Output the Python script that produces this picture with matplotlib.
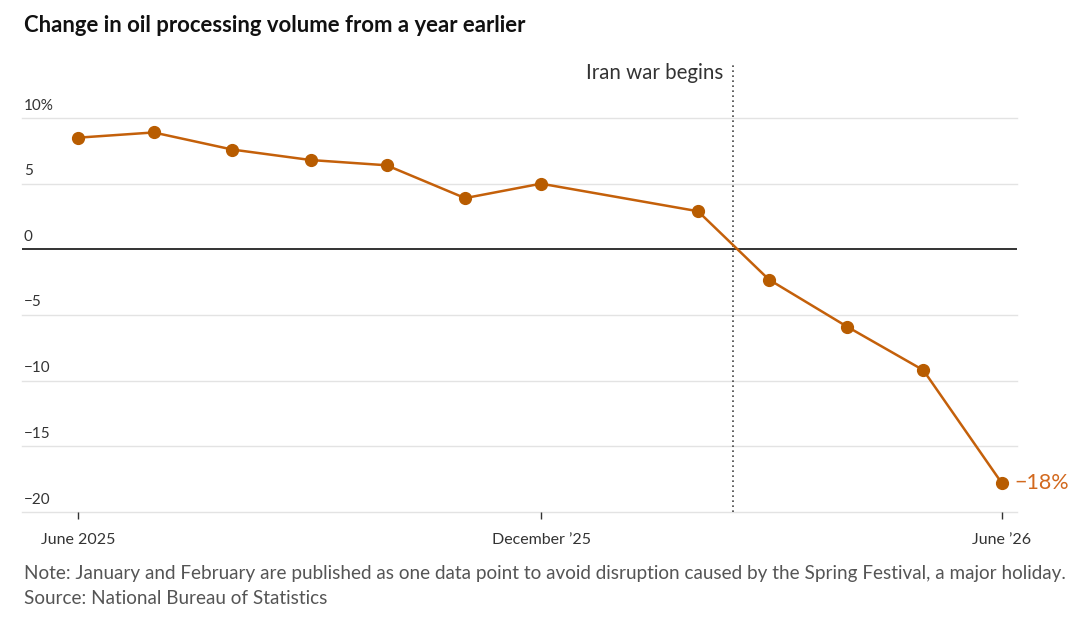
import pandas as pd
import numpy as np
import matplotlib
matplotlib.use("Agg")
import matplotlib.pyplot as plt
import matplotlib.transforms as mtransforms

# data
months = ["2025-06-01", "2025-07-01", "2025-08-01", "2025-09-01", "2025-10-01",
          "2025-11-01", "2025-12-01", "2026-02-01", "2026-03-01", "2026-04-01",
          "2026-05-01", "2026-06-01"]
change = [8.5, 8.9, 7.6, 6.8, 6.4, 3.9, 5.0, 2.9, -2.3, -5.9, -9.2, -17.8]
yticks = [10, 5, 0, -5, -10, -15, -20]
ytick_labels = ["10%", "5", "0", "\u22125", "\u221210", "\u221215", "\u221220"]
xtick_dates = ["2025-06-01", "2025-12-01", "2026-06-01"]
xtick_labels = ["June 2025", "December \u201925", "June \u201926"]
war_date = "2026-02-15"

plt.rcParams['font.family'] = ['Lato', 'DejaVu Sans']
orange = '#c4600a'
text_col = '#333333'

dates = pd.to_datetime(months)

fig = plt.figure(figsize=(10.8, 6.27), dpi=100)
ax = fig.add_axes([22/1080, 1-512/627, (1017-22)/1080, (512-118)/627])

ax.set_ylim(-20, 10)
ax.set_xlim(pd.Timestamp("2025-05-10"), pd.Timestamp("2026-06-07"))

for y in yticks:
    if y == 0:
        ax.axhline(y, color='#333333', lw=1.4, zorder=2)
    else:
        ax.axhline(y, color='#e3e3e3', lw=1, zorder=1, clip_on=False)

# y labels sit above gridlines, left aligned
trans = mtransforms.blended_transform_factory(ax.transAxes, ax.transData)
for y, lab in zip(yticks, ytick_labels):
    ax.annotate(lab, (0.002, y), xycoords=trans, xytext=(0, 9), textcoords='offset points',
                ha='left', va='center', fontsize=11, color=text_col)

# war line
ax.axvline(pd.Timestamp(war_date), ymin=0, ymax=1.135, color='#444444', lw=1.2,
           linestyle=(0, (1, 2)), clip_on=False, zorder=2)
ax.annotate("Iran war begins", (pd.Timestamp(war_date), 1.115),
            xycoords=('data', 'axes fraction'), xytext=(-7, 0), textcoords='offset points',
            ha='right', va='center', fontsize=14.8, color=text_col)

ax.plot(dates, change, color=orange, lw=1.8, marker='o', markersize=8.5,
        markerfacecolor='#b85c00', markeredgecolor='#b85c00', zorder=3, clip_on=False)
ax.annotate("\u221218%", (dates[-1], change[-1]), xytext=(9, 0), textcoords='offset points',
            ha='left', va='center', fontsize=15.5, color='#d2691e')

ax.set_xticks(pd.to_datetime(xtick_dates))
ax.set_xticklabels(xtick_labels, fontsize=11.5, color=text_col)
ax.tick_params(axis='x', length=5, width=1, color='#333333', pad=10)
ax.set_yticks([])
for s in ax.spines.values():
    s.set_visible(False)

fig.text(24/1080, 1-25/627, "Change in oil processing volume from a year earlier",
         ha='left', va='center', fontsize=15.9, fontweight='bold', color='#111111')
fig.text(24/1080, 1-574/627,
         "Note: January and February are published as one data point to avoid disruption caused by the Spring Festival, a major holiday.",
         ha='left', va='center', fontsize=13.6, color='#555555')
fig.text(24/1080, 1-598/627, "Source: National Bureau of Statistics",
         ha='left', va='center', fontsize=13.6, color='#555555')

fig.savefig("out.png", dpi=100)
